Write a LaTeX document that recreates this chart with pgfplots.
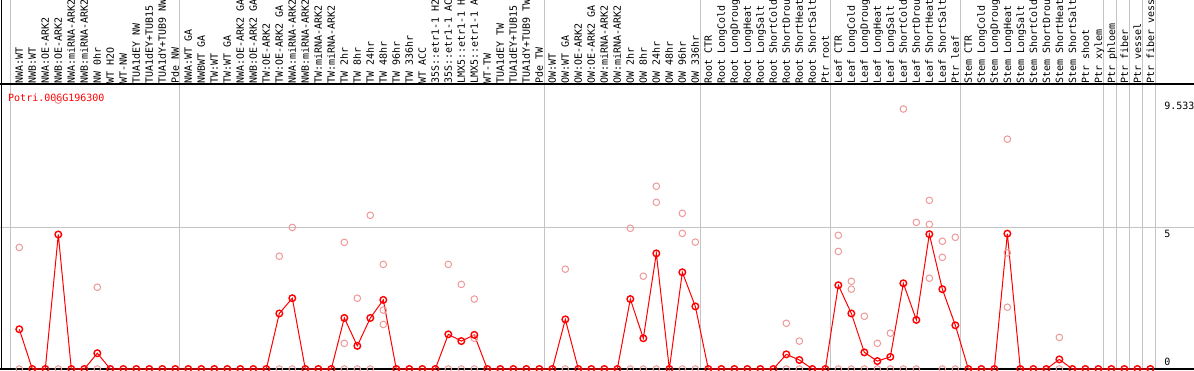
\documentclass[border=0pt]{standalone}
\usepackage{pgfplots}
\usepackage{pgfplotstable}
\pgfplotsset{compat=1.18}
\usepackage{fontspec}
\setmainfont{DejaVu Sans Mono}
\newfontfamily\mono{DejaVu Sans Mono}
\definecolor{pinkc}{RGB}{238,152,152}
\definecolor{gridc}{RGB}{196,196,196}
\definecolor{redc}{RGB}{255,0,0}

\pgfplotstableread{
x m
1 1.41
2 0
3 0
4 4.77
5 0
6 0
7 0.56
8 0
9 0
10 0
11 0
12 0
13 0
14 0
15 0
16 0
17 0
18 0
19 0
20 0
21 1.97
22 2.51
23 0
24 0
25 0
26 1.81
27 0.82
28 1.81
29 2.45
30 0
31 0
32 0
33 0
34 1.23
35 0.99
36 1.21
37 0
38 0
39 0
40 0
41 0
42 0
43 1.76
44 0
45 0
46 0
47 0
48 2.48
49 1.09
50 4.10
51 0
52 3.43
53 2.22
54 0
55 0
56 0
57 0
58 0
59 0
60 0.52
61 0.32
62 0
63 0
64 2.97
65 1.97
66 0.59
67 0.28
68 0.43
69 3.04
70 1.74
71 4.78
72 2.83
73 1.55
74 0
75 0
76 0
77 4.80
78 0
79 0
80 0
81 0.34
82 0
83 0
84 0
85 0
86 0
87 0
88 0
}\meantab

\pgfplotstableread{
x r
1 4.31
1 0
4 9.533
4 0
7 2.90
7 0
21 4.00
21 0
22 5.02
22 0
26 4.49
26 0.91
26 0
27 2.51
27 0
28 5.45
28 0
29 3.71
29 2.09
29 1.58
34 3.71
34 0
35 3.00
35 0
36 2.48
36 1.09
36 0
43 3.54
43 0
48 4.99
48 0
49 3.29
49 0
50 6.48
50 5.91
50 0
52 5.52
52 4.81
52 0
53 4.50
53 0
60 1.62
60 0
61 0.99
61 0
64 4.74
64 4.17
64 0
65 3.11
65 2.83
65 0
66 1.87
66 0
67 0.91
67 0
68 1.27
68 0
69 9.22
69 0
70 5.20
70 0
71 5.98
71 5.13
71 3.22
72 4.53
72 3.96
72 0
73 4.67
73 0
77 8.15
77 4.12
77 2.19
81 1.12
81 0
}\reptab

\begin{document}
\begin{tikzpicture}
\begin{axis}[
  at={(0pt,0pt)}, anchor=south west,
  scale only axis, width=1194pt, height=370pt,
  xmin=-0.4846, xmax=91.362, ymin=-0.0355, ymax=13.085,
  axis line style={draw=none}, tick style={draw=none},
  xtick=\empty,
  extra x ticks={0.36,13.36,41.36,53.36,63.36,73.36,84.36,85.36,86.36,87.36,88.36},
  extra x tick labels={},
  extra x tick style={grid=major, major grid style={draw=gridc, line width=1pt}},
  ytick={5,9.533}, yticklabels={5,9.533},
  yticklabel pos=right,
  yticklabel style={anchor=west, inner sep=0pt, xshift=-30pt, yshift=-5.5pt, font=\mono\fontsize{10}{12}\selectfont},
  extra y ticks={0}, extra y tick labels={0},
  extra y tick style={yticklabel style={yshift=12.5pt}},
]
\draw[gridc, line width=1pt] (axis cs:-0.4846,5) -- (axis cs:91.362,5);
\draw[black, line width=1.5pt] (axis cs:-0.4846,0) -- (axis cs:91.362,0);
\draw[black, line width=1.2pt] (axis cs:-0.4846,10.106) -- (axis cs:91.362,10.106);
\draw[black, line width=1.2pt] (rel axis cs:0.0012,0) -- (rel axis cs:0.0012,1);
\addplot[only marks, mark=o, mark size=3.3pt, color=pinkc, mark options={line width=1pt}] table[x=x,y=r]{\reptab};
\addplot[color=redc, line width=1pt, mark=o, mark size=3.3pt, mark options={line width=1.4pt, solid}] table[x=x,y=m]{\meantab};
\node[anchor=base west, inner sep=0pt, text=redc, font=\mono\fontsize{10}{12}\selectfont] at (rel axis cs:0.0067,0.727) {Potri.006G196300};
\end{axis}
\begin{axis}[
  at={(0pt,286pt)}, anchor=south west,
  scale only axis, width=1194pt, height=84pt,
  xmin=-0.4846, xmax=91.362, ymin=0, ymax=1,
  axis line style={draw=none}, tick style={draw=none},
  ytick=\empty,
  xtick={1,...,88},
  xticklabels={NWA:WT, NWB:WT, NWA:OE-ARK2, NWB:OE-ARK2, NWA:miRNA-ARK2, NWB:miRNA-ARK2, NW 0hr, WT H2O, WT-NW, TUA1dEY NW, TUA1dEY+TUB15, TUA1dY+TUB9 NW, Pde NW,
    NWA:WT GA, NWBWT GA, TW:WT, TW:WT GA, NWA:OE-ARK2 GA, NWB:OE-ARK2 GA, TW:OE-ARK2, TW:OE-ARK2 GA, NWA:miRNA-ARK2, NWB:miRNA-ARK2, TW:miRNA-ARK2, TW:miRNA-ARK2, TW 2hr, TW 8hr, TW 24hr, TW 48hr, TW 96hr, TW 336hr, WT ACC, 35S::etr1-1 H2, 35S::etr1-1 AC, LMX5::etr1-1 H, LMX5::etr1-1 A, WT-TW, TUA1dEY TW, TUA1dEY+TUB15, TUA1dY+TUB9 TW, Pde TW,
    OW:WT, OW:WT GA, OW:OE-ARK2, OW:OE-ARK2 GA, OW:miRNA-ARK2, OW:miRNA-ARK2, OW 2hr, OW 8hr, OW 24hr, OW 48hr, OW 96hr, OW 336hr,
    Root CTR, Root LongCold, Root LongDroug, Root LongHeat, Root LongSalt, Root ShortCold, Root ShortDrou, Root ShortHeat, Root ShortSalt, Ptr root,
    Leaf CTR, Leaf LongCold, Leaf LongDroug, Leaf LongHeat, Leaf LongSalt, Leaf ShortCold, Leaf ShortDrou, Leaf ShortHeat, Leaf ShortSalt, Ptr leaf,
    Stem CTR, Stem LongCold, Stem LongDroug, Stem LongHeat, Stem LongSalt, Stem ShortCold, Stem ShortDrou, Stem ShortHeat, Stem ShortSalt, Ptr shoot, Ptr xylem,
    Ptr phloem, Ptr fiber, Ptr vessel, Ptr fiber vess},
  xticklabel style={rotate=90, anchor=west, inner sep=0pt, text height=7.3pt, text depth=0pt, font=\mono\fontsize{10}{12}\selectfont},
]
\end{axis}
\pgfresetboundingbox
\path[use as bounding box] (0pt,0pt) rectangle (1194pt,370pt);
\end{tikzpicture}
\end{document}
